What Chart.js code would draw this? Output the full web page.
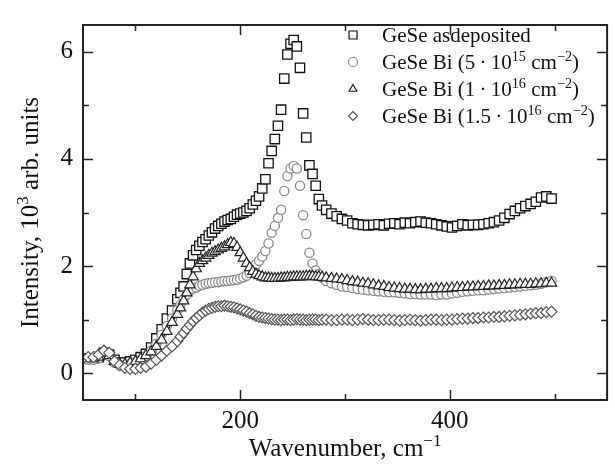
<!DOCTYPE html>
<html>
<head>
<meta charset="utf-8">
<script src="https://cdn.jsdelivr.net/npm/chart.js@4.4.0/dist/chart.umd.min.js"></script>
<style>
  html, body { margin: 0; padding: 0; background: #fff; }
  #wrap { width: 615px; height: 468px; }
</style>
</head>
<body>
<div id="wrap"><canvas id="raman" width="615" height="468"></canvas></div>
<script>
// Raman spectra of GeSe films (intensity in 10^3 arb. units)
const wavenumber = [
  50, 55, 60, 65, 70, 75, 80, 85, 90, 95, 100, 105, 110, 115, 120, 125, 130, 135, 140,
  143, 146, 149, 152, 155, 158, 161, 164, 167, 170, 173, 176, 179, 182, 185, 188, 191, 194, 197, 200, 203, 206, 209, 212, 215, 218, 221, 224, 227, 230, 233, 236, 239, 242, 245, 248, 251, 254, 257, 260, 263, 266, 269, 272, 275, 278,
  282, 287, 292, 297, 302, 307, 312, 317, 322, 327, 332, 337, 342, 347, 352, 357, 362, 367, 372, 377, 382, 387, 392, 397, 402, 407, 412, 417, 422, 427, 432, 437, 442, 447, 452, 457, 462, 467, 472, 477, 482, 487, 492, 497
];

const asDeposited = [
  null, 0.28, 0.28, 0.30, 0.38, 0.35, 0.25, 0.20, 0.20, 0.22, 0.25, 0.30, 0.36, 0.48, 0.65, 0.82, 1.02, 1.17, 1.38,
  1.50, 1.62, 1.85, 2.05, 2.20, 2.30, 2.38, 2.45, 2.50, 2.57, 2.63, 2.70, 2.75, 2.79, 2.83, 2.86, 2.88, 2.92, 2.96, 2.98, 3.00, 3.03, 3.08, 3.15, 3.22, 3.30, 3.45, 3.62, 3.92, 4.15, 4.37, 4.62, 4.92, 5.50, 5.95, 6.15, 6.22, 6.10, 5.70, 4.85, 4.40, 3.88, 3.72, 3.50, 3.25, 3.13,
  3.05, 2.98, 2.93, 2.88, 2.85, 2.80, 2.78, 2.77, 2.76, 2.77, 2.78, 2.76, 2.79, 2.80, 2.78, 2.81, 2.80, 2.82, 2.83, 2.81, 2.80, 2.78, 2.76, 2.74, 2.72, 2.75, 2.78, 2.76, 2.77, 2.77, 2.78, 2.80, 2.82, 2.85, 2.90, 2.97, 3.03, 3.08, 3.12, 3.16, 3.20, 3.28, 3.30, 3.26
];

const bi5e15 = [
  null, 0.25, 0.25, 0.28, 0.35, 0.32, 0.20, 0.15, 0.15, 0.17, 0.20, 0.25, 0.32, 0.42, 0.55, 0.72, 0.88, 1.02, 1.18,
  1.28, 1.38, 1.47, 1.54, 1.58, 1.60, 1.63, 1.65, 1.67, 1.68, 1.69, 1.70, 1.70, 1.71, 1.72, 1.72, 1.73, 1.74, 1.75, 1.77, 1.79, 1.82, 1.87, 1.95, 2.03, 2.10, 2.18, 2.28, 2.42, 2.62, 2.75, 2.90, 3.05, 3.40, 3.68, 3.82, 3.87, 3.82, 3.50, 2.95, 2.60, 2.25, 2.05, 1.92, 1.85, 1.78,
  1.72, 1.68, 1.65, 1.62, 1.61, 1.59, 1.57, 1.56, 1.55, 1.54, 1.53, 1.52, 1.51, 1.51, 1.50, 1.49, 1.48, 1.48, 1.47, 1.47, 1.47, 1.46, 1.47, 1.47, 1.49, 1.50, 1.52, 1.53, 1.54, 1.55, 1.55, 1.56, 1.57, 1.58, 1.59, 1.60, 1.61, 1.62, 1.63, 1.64, 1.65, 1.67, 1.70, 1.72
];

const bi1e16 = [
  null, 0.27, 0.27, 0.30, 0.37, 0.33, 0.22, 0.17, 0.17, 0.19, 0.22, 0.27, 0.33, 0.40, 0.50, 0.62, 0.78, 0.95, 1.10,
  1.22, 1.35, 1.50, 1.65, 1.80, 1.95, 2.05, 2.10, 2.15, 2.20, 2.24, 2.27, 2.30, 2.33, 2.36, 2.40, 2.44, 2.42, 2.35, 2.25, 2.15, 2.05, 1.97, 1.90, 1.85, 1.82, 1.80, 1.78, 1.78, 1.77, 1.77, 1.77, 1.78, 1.78, 1.79, 1.79, 1.80, 1.80, 1.80, 1.80, 1.81, 1.81, 1.81, 1.80, 1.80, 1.79,
  1.78, 1.77, 1.76, 1.75, 1.73, 1.71, 1.70, 1.68, 1.67, 1.65, 1.63, 1.62, 1.60, 1.59, 1.58, 1.57, 1.57, 1.56, 1.56, 1.57, 1.57, 1.58, 1.58, 1.58, 1.59, 1.60, 1.60, 1.61, 1.61, 1.62, 1.62, 1.63, 1.63, 1.64, 1.64, 1.65, 1.65, 1.66, 1.66, 1.66, 1.67, 1.67, 1.68, 1.68
];

const bi15e16 = [
  0.28, 0.30, 0.30, 0.35, 0.42, 0.38, 0.22, 0.15, 0.10, 0.08, 0.08, 0.10, 0.12, 0.18, 0.25, 0.33, 0.42, 0.50, 0.60,
  0.68, 0.75, 0.83, 0.90, 0.97, 1.03, 1.08, 1.13, 1.17, 1.20, 1.22, 1.24, 1.25, 1.25, 1.26, 1.25, 1.24, 1.23, 1.21, 1.19, 1.17, 1.15, 1.12, 1.10, 1.07, 1.05, 1.04, 1.03, 1.02, 1.01, 1.00, 1.00, 0.99, 1.00, 1.00, 0.99, 1.00, 1.01, 1.00, 1.00, 0.99, 1.00, 1.00, 1.00, 0.99, 1.00,
  1.00, 0.99, 0.99, 1.00, 1.00, 0.99, 1.00, 1.01, 1.00, 0.99, 0.99, 1.00, 1.00, 0.99, 0.98, 0.99, 1.00, 0.99, 0.98, 0.99, 1.00, 1.00, 0.99, 1.00, 1.00, 1.01, 1.02, 1.02, 1.03, 1.03, 1.04, 1.04, 1.05, 1.05, 1.06, 1.07, 1.08, 1.09, 1.10, 1.11, 1.12, 1.12, 1.14, 1.15
];

const xTicks = [100, 200, 300, 400, 500];
const xLabels = [200, 400];
const yTicks = [0, 1, 2, 3, 4, 5, 6];
const yLabels = [0, 2, 4, 6];

// legend text pieces, 'sup' marks superscripts
const legendTexts = [
  [['GeSe asdeposited']],
  [['GeSe Bi (5\u2009·\u200910'], ['15', 'sup'], [' cm'], ['\u22122', 'sup'], [')']],
  [['GeSe Bi (1\u2009·\u200910'], ['16', 'sup'], [' cm'], ['\u22122', 'sup'], [')']],
  [['GeSe Bi (1.5\u2009·\u200910'], ['16', 'sup'], [' cm'], ['\u22122', 'sup'], [')']]
];
const xTitle = [['Wavenumber, cm'], ['\u22121', 'sup']];
const yTitle = [['Intensity, 10'], ['3', 'sup'], [' arb. units']];

const serif = "'Liberation Serif', 'Times New Roman', serif";

function toPoints(values) {
  const pts = [];
  values.forEach((v, i) => {
    if (v !== null) pts.push({ x: wavenumber[i], y: v });
  });
  return pts;
}

function richWidth(ctx, parts, size) {
  let w = 0;
  parts.forEach(p => {
    ctx.font = (p[1] === 'sup' ? size * 0.68 : size) + 'px ' + serif;
    w += ctx.measureText(p[0]).width;
  });
  return w;
}

function drawRich(ctx, parts, x, y, size) {
  let cx = x;
  parts.forEach(p => {
    const sup = p[1] === 'sup';
    ctx.font = (sup ? size * 0.68 : size) + 'px ' + serif;
    ctx.fillText(p[0], cx, sup ? y - size * 0.4 : y);
    cx += ctx.measureText(p[0]).width;
  });
}

function marker(ctx, style, x, y, r) {
  ctx.beginPath();
  if (style === 'rect') {
    ctx.rect(x - r, y - r, 2 * r, 2 * r);
  } else if (style === 'circle') {
    ctx.arc(x, y, r, 0, Math.PI * 2);
  } else if (style === 'triangle') {
    ctx.moveTo(x, y - r);
    ctx.lineTo(x + r * 0.87, y + r * 0.5);
    ctx.lineTo(x - r * 0.87, y + r * 0.5);
    ctx.closePath();
  } else {
    ctx.moveTo(x, y - r);
    ctx.lineTo(x + r, y);
    ctx.lineTo(x, y + r);
    ctx.lineTo(x - r, y);
    ctx.closePath();
  }
  ctx.fill();
  ctx.stroke();
}

const framePlugin = {
  id: 'frame',
  afterDatasetsDraw(chart) {
    const ctx = chart.ctx;
    const a = chart.chartArea;
    const xs = chart.scales.x;
    const ys = chart.scales.y;
    ctx.save();
    // box
    ctx.strokeStyle = '#222';
    ctx.lineWidth = 2;
    ctx.strokeRect(a.left, a.top, a.right - a.left, a.bottom - a.top);
    // inward ticks on all four sides
    ctx.lineWidth = 1.5;
    ctx.beginPath();
    xTicks.forEach(v => {
      const px = Math.round(xs.getPixelForValue(v)) + 0.5;
      const len = xLabels.includes(v) ? 10 : 6;
      ctx.moveTo(px, a.bottom); ctx.lineTo(px, a.bottom - len);
      ctx.moveTo(px, a.top); ctx.lineTo(px, a.top + len);
    });
    yTicks.forEach(v => {
      const py = Math.round(ys.getPixelForValue(v)) + 0.5;
      const len = yLabels.includes(v) ? 10 : 6;
      ctx.moveTo(a.left, py); ctx.lineTo(a.left + len, py);
      ctx.moveTo(a.right, py); ctx.lineTo(a.right - len, py);
    });
    ctx.stroke();

    // legend
    const ds = chart.data.datasets;
    ctx.textBaseline = 'alphabetic';
    ctx.textAlign = 'left';
    legendTexts.forEach((parts, i) => {
      const cy = 35 + i * 27;
      const d = ds[i];
      ctx.fillStyle = '#fff';
      ctx.strokeStyle = d.pointBorderColor;
      ctx.lineWidth = 1.2;
      marker(ctx, d.pointStyle, 353, cy, i === 0 ? 4 : 4.5);
      ctx.fillStyle = '#111';
      drawRich(ctx, parts, 382, cy + 7, 21);
    });

    // axis titles
    ctx.fillStyle = '#111';
    const xw = richWidth(ctx, xTitle, 25);
    drawRich(ctx, xTitle, (a.left + a.right) / 2 - xw / 2, 456, 25);
    ctx.translate(38, (a.top + a.bottom) / 2);
    ctx.rotate(-Math.PI / 2);
    const yw = richWidth(ctx, yTitle, 25);
    drawRich(ctx, yTitle, -yw / 2, 0, 25);
    ctx.restore();
  }
};

const ctx = document.getElementById('raman').getContext('2d');
const chart = new Chart(ctx, {
  type: 'scatter',
  data: {
    datasets: [
      {
        label: 'GeSe asdeposited',
        data: toPoints(asDeposited),
        pointStyle: 'rect',
        pointRadius: 6.6,
        pointBorderWidth: 1.3,
        pointBorderColor: '#111',
        pointBackgroundColor: '#fff',
        order: 4
      },
      {
        label: 'GeSe Bi 5e15',
        data: toPoints(bi5e15),
        pointStyle: 'circle',
        pointRadius: 4.6,
        pointBorderWidth: 1.3,
        pointBorderColor: '#8a8a8a',
        pointBackgroundColor: '#fff',
        order: 3
      },
      {
        label: 'GeSe Bi 1e16',
        data: toPoints(bi1e16),
        pointStyle: 'triangle',
        pointRadius: 6,
        pointBorderWidth: 1.2,
        pointBorderColor: '#222',
        pointBackgroundColor: '#fff',
        showLine: true,
        borderColor: '#000',
        borderWidth: 1.2,
        order: 2
      },
      {
        label: 'GeSe Bi 1.5e16',
        data: toPoints(bi15e16),
        pointStyle: 'rectRot',
        pointRadius: 5.5,
        pointBorderWidth: 1.2,
        pointBorderColor: '#555',
        pointBackgroundColor: '#fff',
        order: 1
      }
    ]
  },
  options: {
    responsive: false,
    animation: false,
    devicePixelRatio: 1,
    layout: { padding: { left: 0, right: 2, top: 8, bottom: 0 } },
    plugins: { legend: { display: false }, tooltip: { enabled: false } },
    scales: {
      x: {
        type: 'linear',
        min: 50,
        max: 550,
        afterFit: s => { s.height = 68; },
        afterBuildTicks: s => { s.ticks = xTicks.map(v => ({ value: v })); },
        grid: { display: false, drawTicks: false },
        border: { display: false },
        ticks: {
          padding: 6,
          color: '#111',
          font: { family: serif, size: 25 },
          maxRotation: 0,
          autoSkip: false,
          callback: v => xLabels.includes(v) ? String(v) : ''
        }
      },
      y: {
        type: 'linear',
        min: -0.5,
        max: 6.5,
        afterFit: s => { s.width = 83; },
        afterBuildTicks: s => { s.ticks = yTicks.map(v => ({ value: v })); },
        grid: { display: false, drawTicks: false },
        border: { display: false },
        ticks: {
          padding: 10,
          color: '#111',
          font: { family: serif, size: 25 },
          autoSkip: false,
          callback: v => yLabels.includes(v) ? String(v) : ''
        }
      }
    }
  },
  plugins: [framePlugin]
});
</script>
</body>
</html>
